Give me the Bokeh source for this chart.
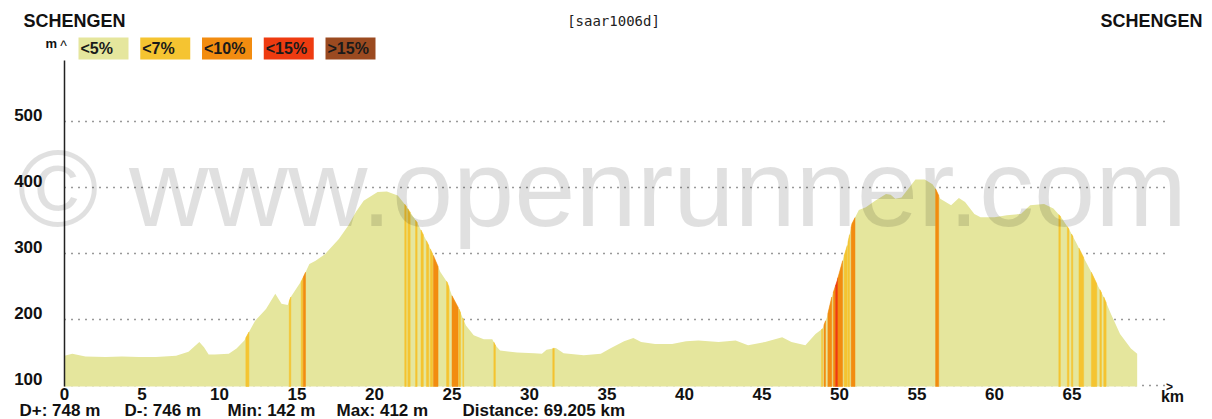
import numpy as np
from bokeh.plotting import figure
from bokeh.models import (Range1d, FixedTicker, Label, BoxAnnotation, ColumnDataSource,
                          LinearAxis)
from bokeh.embed import file_html
from bokeh.resources import INLINE

# ---------------- data ----------------
dist_km = [0.0, 0.5, 1.35, 2.65, 3.7, 4.8, 5.9, 7.2, 8.0, 8.7,
           9.0, 9.3, 9.7, 10.6, 11.1, 11.6, 11.9, 12.3, 13.0, 13.6,
           14.0, 14.4, 14.6, 15.3, 15.8, 16.2, 16.8, 17.7, 18.3, 18.8,
           19.3, 20.2, 20.8, 21.5, 22.0, 22.75, 23.4, 23.8, 24.25, 24.7,
           25.0, 25.45, 25.9, 26.4, 27.05, 27.6, 27.8, 28.1, 29.2, 30.3,
           30.8, 31.1, 31.7, 32.2, 33.5, 34.6, 35.2, 36.1, 36.7, 37.2,
           38.1, 39.2, 40.1, 40.9, 42.2, 43.3, 44.1, 45.2, 46.3, 46.9,
           47.8, 48.45, 48.9, 49.2, 49.5, 49.85, 50.2, 50.5, 50.8, 51.25,
           51.7, 52.3, 53.0, 53.3, 53.6, 54.0, 54.5, 54.9, 55.5, 56.0,
           56.2, 56.5, 57.2, 57.7, 58.1, 58.7, 59.1, 60.0, 60.8, 61.7,
           62.3, 63.2, 63.8, 64.3, 64.8, 65.3, 65.75, 66.2, 66.6, 67.05,
           67.5, 68.1, 68.8, 69.205]
elev_m = [145, 148, 144, 143, 144, 143, 143, 145, 151, 166,
          158, 147, 147, 148, 156, 168, 181, 198, 216, 239,
          224, 222, 234, 259, 284, 289, 299, 322, 342, 363,
          380, 393, 394, 388, 373, 347, 317, 297, 272, 256,
          236, 216, 191, 176, 170, 170, 161, 153, 150, 149,
          148, 154, 157, 149, 146, 148, 156, 167, 172, 166,
          163, 163, 167, 168, 166, 168, 161, 166, 173, 166,
          161, 178, 186, 204, 234, 259, 289, 312, 345, 366,
          370, 380, 390, 389, 383, 385, 400, 412, 412, 405,
          398, 383, 373, 384, 378, 360, 355, 355, 358, 360,
          373, 375, 368, 355, 337, 315, 294, 274, 254, 234,
          209, 178, 156, 148]

# steep sections (km from, km to, grade class index into legend)
steep_start = [11.7, 14.5, 15.27, 15.4,
               21.95, 22.15, 22.65, 23.0, 23.35, 23.6, 23.8, 24.65, 25.0, 25.45, 25.7, 27.7, 31.5,
               48.85, 49.0, 49.25, 49.6, 49.75, 49.9, 50.3, 50.55, 50.75,
               56.2,
               64.15, 64.7, 64.97, 65.45, 66.25, 66.8, 67.05]
steep_end = [11.9, 14.6, 15.37, 15.55,
             22.05, 22.3, 22.75, 23.15, 23.5, 23.75, 24.1, 24.8, 25.4, 25.55, 25.75, 27.8, 31.6,
             48.9, 49.1, 49.5, 49.75, 49.9, 50.2, 50.5, 50.65, 51.0,
             56.4,
             64.25, 64.8, 65.05, 65.75, 66.6, 66.9, 67.2]
steep_cls = [1, 1, 1, 2,
             1, 1, 1, 1, 1, 1, 2, 1, 2, 1, 1, 1, 1,
             1, 2, 2, 2, 3, 2, 1, 1, 2,
             2,
             1, 1, 1, 1, 1, 1, 1]

legend_labels = ["<5%", "<7%", "<10%", "<15%", ">15%"]
grade_colors = ["#e5e69d", "#f5c431", "#f28c10", "#ee3b10", "#9b4a20"]

x_ticks = [0, 5, 10, 15, 20, 25, 30, 35, 40, 45, 50, 55, 60, 65]
y_ticks = [100, 200, 300, 400, 500]

start_name = "SCHENGEN"
end_name = "SCHENGEN"
route_id = "[saar1006d]"
stats = ["D+: 748 m", "D-: 746 m", "Min: 142 m", "Max: 412 m", "Distance: 69.205 km"]
watermark = "\u00a9 www.openrunner.com"

# ---------------- layout helpers (picture pixels -> data) ----------------
W, H = 1212, 419
X0_PX, Y0_PX = 64.0, 385.0     # picture position of (0 km, 100 m)
PX_PER_KM, PX_PER_M = 15.5, 0.66


def pg2x(px):
    return (px - X0_PX) / PX_PER_KM


def pg2y(py):
    return 100.0 + (Y0_PX - py) / PX_PER_M


FONT = "Liberation Sans"
INK = "#111111"

y_lo, y_hi = pg2y(H), pg2y(0)
p = figure(width=W, height=H,
           x_range=Range1d(pg2x(0), pg2x(W)), y_range=Range1d(y_lo, y_hi),
           output_backend="svg", toolbar_location=None, min_border=0)
p.outline_line_color = None
p.background_fill_color = "white"
p.border_fill_color = "white"
p.grid.visible = False

# y tick labels sit a few pixels above their grid line, as in the original
lift = 6.5 / PX_PER_M
p.extra_y_ranges = {"labels": Range1d(y_lo - lift, y_hi - lift)}
p.yaxis.visible = False
yax = LinearAxis(y_range_name="labels")
p.add_layout(yax, "left")

for ax in (p.xaxis[0], yax):
    ax.axis_line_color = None
    ax.major_tick_in = 0
    ax.major_tick_out = 0
    ax.minor_tick_in = 0
    ax.minor_tick_out = 0
    ax.major_label_text_font = FONT
    ax.major_label_text_font_style = "bold"
    ax.major_label_text_font_size = "17px"
    ax.major_label_text_color = INK
p.xaxis.ticker = FixedTicker(ticks=x_ticks)
yax.ticker = FixedTicker(ticks=y_ticks)
p.xaxis.fixed_location = pg2y(387.5)
yax.fixed_location = 0
p.xaxis.major_label_standoff = 0
yax.major_label_standoff = 22

base = pg2y(386)

# dotted horizontal grid lines (under the profile)
grid_end = pg2x(1166)
p.segment(x0=[0] * len(y_ticks), y0=y_ticks, x1=[grid_end] * len(y_ticks), y1=y_ticks,
          line_color="#333333", line_width=1.3, line_dash="1 6")

# profile
p.varea(x=dist_km, y1=base, y2=elev_m, fill_color=grade_colors[0])

# steep stripes
d = np.array(dist_km, dtype=float)
e = np.array(elev_m, dtype=float)
xs, ys, cols = [], [], []
for s, t, c in zip(steep_start, steep_end, steep_cls):
    inner = d[(d > s) & (d < t)]
    px = np.concatenate([[s], inner, [t]])
    py = np.interp(px, d, e)
    xs.append([s] + list(px) + [t])
    ys.append([base] + list(py) + [base])
    cols.append(grade_colors[c])
p.patches(xs="xs", ys="ys", fill_color="cols", line_color="cols", line_width=0.5,
          source=ColumnDataSource(dict(xs=xs, ys=ys, cols=cols)))

# vertical axis line
p.segment(x0=[0], y0=[base], x1=[0], y1=[pg2y(60)], line_color="#222222", line_width=1.5)


def label(x, y, text, size, bold=True, align="left", font=FONT, color=INK, **kw):
    p.add_layout(Label(x=pg2x(x), y=pg2y(y), text=text, text_font=font,
                       text_font_size=size, text_font_style="bold" if bold else "normal",
                       text_color=color, text_baseline="middle", text_align=align, **kw))


# watermark
label(17, 187, watermark, "110px", bold=False, color="black", text_alpha=0.12)

# legend boxes
for i, (lab, col) in enumerate(zip(legend_labels, grade_colors)):
    left = 78 + 61.75 * i
    p.add_layout(BoxAnnotation(left=pg2x(left), right=pg2x(left + 50),
                               top=pg2y(37), bottom=pg2y(59),
                               fill_color=col, fill_alpha=1.0, line_color=None))
    label(left + 2, 47.5, lab, "16px", color="#1a1a1a")

# axis markers
label(45, 43, "m", "13px")
label(63, 45.5, "^", "14px", bold=False, align="center")
label(1169, 386.5, ">", "12px", align="center")
label(1172, 396, "km", "16px", align="center")

# header
label(23, 20.5, start_name, "18px")
label(1202, 20.5, end_name, "18px", align="right")
label(613, 20, route_id, "14px", bold=False, align="center", font="DejaVu Sans Mono",
      color="#222222")

# footer stats
for txt, xl in zip(stats, [19, 124, 227, 336, 462]):
    label(xl, 410, txt, "17px")

open("out.html", "w").write(file_html(p, INLINE))
